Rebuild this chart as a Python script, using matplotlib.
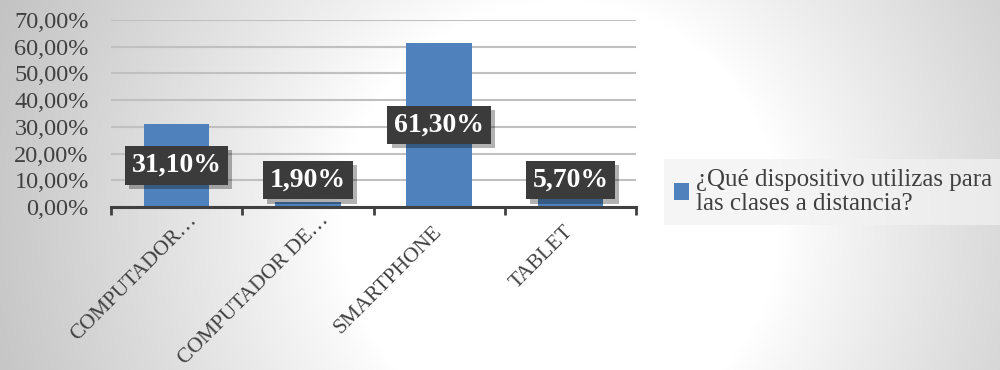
import numpy as np
import matplotlib
matplotlib.use("Agg")
import matplotlib.pyplot as plt
import matplotlib.patheffects as pe
import matplotlib.transforms as mtransforms
from matplotlib.patches import Patch

categorias = ["COMPUTADOR…", "COMPUTADOR DE…", "SMARTPHONE", "TABLET"]
valores = [31.10, 1.90, 61.30, 5.70]
serie = "¿Qué dispositivo utilizas para\nlas clases a distancia?"
yticks = [0, 10, 20, 30, 40, 50, 60, 70]

plt.rcParams['font.family'] = ['Liberation Serif', 'DejaVu Serif']
gris = '#404040'
azul = '#4f81bd'

fig = plt.figure(figsize=(10, 3.7), dpi=100)

# fondo con degradado radial
bg = fig.add_axes([0, 0, 1, 1], zorder=-10)
yy, xx = np.mgrid[0:370, 0:1000]
dist = np.sqrt((xx - 560) ** 2 + (yy - 220) ** 2)
t = np.clip((dist - 220) / 380, 0, 1)
g = (255 - 60 * t ** 0.9) / 255
bg.imshow(np.dstack([g, g, g]), aspect='auto', extent=[0, 1, 0, 1])
bg.axis('off')

ax = fig.add_axes([0.111, 0.4405, 0.525, 0.5055])
ax.patch.set_alpha(0)
x = np.arange(len(categorias))
barras = ax.bar(x, valores, width=0.5, color=azul, zorder=3)

ax.set_xlim(-0.5, len(categorias) - 0.5)
ax.set_ylim(0, 70)
ax.set_yticks(yticks)
ax.set_yticklabels([f"{v:.2f}%".replace('.', ',') for v in yticks], fontsize=17.5, color=gris)
ax.yaxis.grid(True, color='#c0c0c0', lw=1.5, zorder=0)
ax.tick_params(axis='y', length=0, pad=16)

for s in ['top', 'right', 'left']:
    ax.spines[s].set_visible(False)
ax.spines['bottom'].set_color(gris)
ax.spines['bottom'].set_linewidth(2.2)
ax.spines['bottom'].set_zorder(5)

ax.set_xticks(np.arange(len(categorias) + 1) - 0.5, minor=True)
ax.tick_params(axis='x', which='minor', length=6, width=2, color=gris)
ax.set_xticks(x)
ax.set_xticklabels(categorias, rotation=45, ha='right', va='center',
                   rotation_mode='anchor', fontsize=15.5, color=gris)
ax.tick_params(axis='x', which='major', length=0, pad=16)
# las etiquetas recortadas quedan un poco desplazadas en el original
for lbl in ax.get_xticklabels():
    if lbl.get_text().endswith('…'):
        lbl.set_transform(lbl.get_transform() +
                          mtransforms.ScaledTranslation(0.18, 0.12, fig.dpi_scale_trans))

for xi, v in zip(x, valores):
    ypos = max(v / 2, 10)
    txt = ax.text(xi, ypos, f"{v:.2f}%".replace('.', ','), ha='center', va='center',
                  fontsize=20, fontweight='bold', color='white', zorder=6,
                  bbox=dict(boxstyle='square,pad=0.24', facecolor='#3b3b3b',
                            edgecolor='none', lw=0))
    txt.get_bbox_patch().set_path_effects([
        pe.SimplePatchShadow(offset=(3, -3), alpha=0.3, shadow_rgbFace='black'),
        pe.Normal()])

leg = fig.legend(handles=[Patch(facecolor=azul, label=serie)], loc='center left',
                 bbox_to_anchor=(0.664, 0.481), frameon=True, fancybox=False,
                 facecolor='#f2f2f2', edgecolor='none', framealpha=0.7,
                 fontsize=18, handlelength=0.6, handleheight=0.65,
                 handletextpad=0.3, borderpad=0.4, borderaxespad=0)
for t_ in leg.get_texts():
    t_.set_color(gris)
    t_.set_linespacing(1.15)

fig.savefig('out.png', dpi=100)
